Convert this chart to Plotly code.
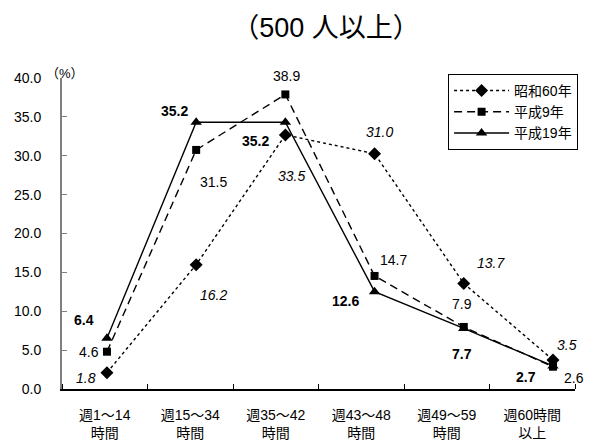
import plotly.graph_objects as go

categories = ["週1～14<br>時間", "週15～34<br>時間", "週35～42<br>時間",
              "週43～48<br>時間", "週49～59<br>時間", "週60時間<br>以上"]
series_names = ["昭和60年", "平成9年", "平成19年"]
s60 = [1.8, 16.2, 33.5, 31.0, 13.7, 3.5]
h9 = [4.6, 31.5, 38.9, 14.7, 7.9, 2.6]
h19 = [6.4, 35.2, 35.2, 12.6, 7.7, 2.7]
y_ticks = [0, 5, 10, 15, 20, 25, 30, 35, 40]

FONT = "Liberation Sans, Noto Sans CJK JP, sans-serif"
xs = list(range(len(categories)))

fig = go.Figure()
# empty trace so that the visible frame axes are drawn
fig.add_trace(go.Scatter(x=[], y=[], xaxis="x", yaxis="y", showlegend=False,
                         hoverinfo="skip"))
styles = [
    (series_names[0], s60, "dot", "diamond", 10),
    (series_names[1], h9, "8px,5px", "square", 8),
    (series_names[2], h19, "solid", "triangle-up", 10),
]
for name, vals, dash, sym, size in styles:
    fig.add_trace(go.Scatter(
        x=xs, y=vals, name=name, xaxis="x2", yaxis="y2",
        mode="lines+markers", cliponaxis=False,
        line=dict(color="black", width=1.4, dash=dash),
        marker=dict(symbol=sym, size=size, color="black"),
    ))

# label offsets (px) per series
offs_s60 = [(-21, -5), (17, -30), (6, -41), (5, 22), (27, 20), (14, 15)]
offs_h9 = [(-18, 0), (17, -32), (1, 18), (19, 16), (-2, 23), (21, -11)]
offs_h19 = [(-23, 18), (-22, 11), (-30, -19), (-29, -9), (-2, -26), (-27, -11)]

for vals, offs, fstyle, fweight in [(s60, offs_s60, "italic", "normal"),
                                    (h9, offs_h9, "normal", "normal"),
                                    (h19, offs_h19, "normal", "bold")]:
    for i, v in enumerate(vals):
        fig.add_annotation(
            x=i, y=v, xref="x2", yref="y2", text=f"{v:.1f}", showarrow=False,
            xshift=offs[i][0], yshift=offs[i][1],
            font=dict(family=FONT, size=14, color="black", style=fstyle, weight=fweight),
        )

fig.add_annotation(x=-0.035, y=1.013, xref="paper", yref="paper", text="（%）",
                   xanchor="left", yanchor="middle",
                   showarrow=False, font=dict(family=FONT, size=13, color="black"))

fig.update_layout(
    width=605, height=447,
    margin=dict(l=62, r=30, t=78, b=58, autoexpand=False),
    paper_bgcolor="white", plot_bgcolor="white",
    font=dict(family=FONT, size=13, color="black"),
    title=dict(text="（500 人以上）", x=326 / 605, xanchor="center", xref="container",
               y=1 - 28 / 447, yanchor="middle", yref="container",
               font=dict(family=FONT, size=27, color="black")),
    xaxis=dict(range=[0, 6], tickvals=[i + 0.5 for i in xs], ticktext=categories,
               ticks="", showgrid=False, zeroline=False, showline=True,
               linecolor="black", linewidth=1.5, ticklabelstandoff=12,
               tickfont=dict(family=FONT, size=14), automargin=False,
               minor=dict(ticks="inside", ticklen=5, tick0=0, dtick=1,
                          tickcolor="black", tickwidth=1, showgrid=False)),
    yaxis=dict(range=[0, 40], tickvals=y_ticks, tickformat=".1f", ticks="inside",
               ticklen=5, tickcolor="#808080", showgrid=False, zeroline=False,
               showline=True, linecolor="#808080", linewidth=2, automargin=False,
               ticklabelstandoff=16, tickfont=dict(family=FONT, size=14)),
    xaxis2=dict(overlaying="x", range=[-0.504, 5.247], visible=False),
    yaxis2=dict(overlaying="y", range=[-0.373, 41.09], visible=False),
    legend=dict(x=1.006, xanchor="right", y=1.013, yanchor="top",
                bordercolor="black", borderwidth=1, bgcolor="white", itemwidth=55,
                font=dict(family=FONT, size=14), tracegroupgap=0),
    showlegend=True,
)

fig.write_html("out.html", config={"displayModeBar": False},
               post_script="document.body.style.margin='0';")
